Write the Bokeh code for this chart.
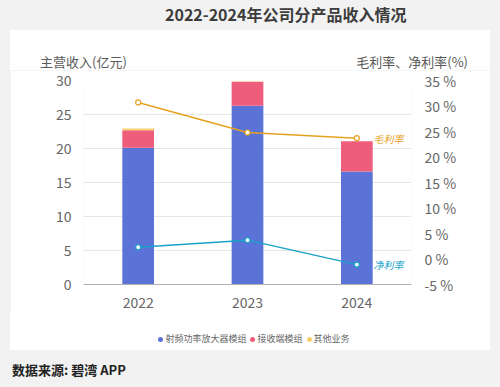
from bokeh.plotting import figure
from bokeh.models import (Range1d, LinearAxis, FixedTicker, PrintfTickFormatter, Label,
                          Div, Spacer, ColumnDataSource)
from bokeh.layouts import column, row
from bokeh.embed import file_html
from bokeh.resources import INLINE

years = ["2022", "2023", "2024"]
rf_pa = [20.1, 26.3, 16.6]
receiver = [2.6, 3.5, 4.45]
other = [0.25, 0.05, 0.0]
gross_margin = [30.7, 24.8, 23.7]
net_margin = [2.3, 3.7, -1.1]
left_ticks = [0, 5, 10, 15, 20, 25, 30]
right_ticks = [-5, 0, 5, 10, 15, 20, 25, 30, 35]
series_names = ["射频功率放大器模组", "接收端模组", "其他业务"]
bar_colors = ["#5b73d7", "#ef5d7c", "#f7d16a"]
c_gross = "#e6a21f"
c_net = "#1aa3c8"
FONT = "Noto Sans CJK SC"
BG = "#f2f2f2"

src = ColumnDataSource(dict(year=years, rf=rf_pa, rx=receiver, ot=other))

p = figure(x_range=years, y_range=Range1d(0, 30), width=480, height=244,
           output_backend="svg", toolbar_location=None, margin=0,
           min_border_left=73, min_border_right=79, min_border_top=10, min_border_bottom=30)
p.extra_y_ranges = {"pct": Range1d(-5, 35)}
p.outline_line_color = None
p.background_fill_color = "white"
p.border_fill_color = "white"

p.vbar_stack(["rf", "rx", "ot"], x="year", width=0.29, color=bar_colors,
             line_color=None, source=src)

p.line(years, gross_margin, y_range_name="pct", color=c_gross, line_width=1.5)
p.scatter(years, gross_margin, y_range_name="pct", size=5, fill_color="white",
          line_color=c_gross, line_width=1.2)
p.line(years, net_margin, y_range_name="pct", color=c_net, line_width=1.5)
p.scatter(years, net_margin, y_range_name="pct", size=5, fill_color="white",
          line_color=c_net, line_width=1.2)

# axes
p.yaxis.ticker = FixedTicker(ticks=left_ticks)
ya = p.yaxis[0]
ya.axis_line_color = None
ya.major_tick_line_color = None
ya.minor_tick_line_color = None
ya.major_label_text_font_size = "14px"
ya.major_label_text_color = "#666666"
ya.major_label_text_font = FONT
ya.major_label_standoff = 6

ra = LinearAxis(y_range_name="pct", ticker=FixedTicker(ticks=right_ticks),
                formatter=PrintfTickFormatter(format="%d %%"))
ra.axis_line_color = None
ra.major_tick_line_color = None
ra.minor_tick_line_color = None
ra.major_label_text_font_size = "14px"
ra.major_label_text_color = "#666666"
ra.major_label_text_font = FONT
ra.major_label_standoff = 7
p.add_layout(ra, "right")

xa = p.xaxis[0]
xa.axis_line_color = "#b0b0b0"
xa.major_tick_line_color = None
xa.minor_tick_line_color = None
xa.major_label_text_font_size = "14px"
xa.major_label_text_color = "#666666"
xa.major_label_text_font = FONT
xa.major_label_standoff = 6

p.ygrid.grid_line_color = "#e6e6e6"
p.xgrid.grid_line_color = None

# line labels
p.add_layout(Label(x=2.652, y=gross_margin[2], y_range_name="pct", text="毛利率",
                   text_font=FONT, text_font_size="10px", text_font_style="italic",
                   text_color=c_gross, text_baseline="middle"))
p.add_layout(Label(x=2.652, y=net_margin[2], y_range_name="pct", text="净利率",
                   text_font=FONT, text_font_size="10px", text_font_style="italic",
                   text_color=c_net, text_baseline="middle"))

F = "font-family:'Noto Sans CJK SC';"

title = Div(margin=0, width=500, height=30, text=(
    f'<div style="width:500px;height:30px;background:{BG};{F}font-weight:bold;font-size:16px;'
    f'color:#3c3c3c;line-height:28px;padding-left:165px;box-sizing:border-box;white-space:nowrap;">'
    '2022-2024年公司分产品收入情况</div>'))

axis_titles = Div(margin=0, width=500, height=40, text=(
    f'<div style="width:500px;height:40px;background:{BG};position:relative;{F}">'
    '<div style="position:absolute;left:10px;top:0;width:480px;height:40px;background:white;">'
    '<span style="position:absolute;left:30px;top:23px;font-size:13px;line-height:18px;color:#595959;white-space:nowrap;">主营收入(亿元)</span>'
    '<span style="position:absolute;right:22px;top:23px;font-size:13px;line-height:18px;color:#595959;white-space:nowrap;">毛利率、净利率(%)</span>'
    '</div></div>'))

dots = "".join(
    f'<span style="display:inline-block;width:5px;height:5px;border-radius:50%;background:{c};'
    f'margin:0 2px 1px 0;vertical-align:middle;"></span>'
    f'<span style="margin-right:4px;">{n}</span>'
    for n, c in zip(series_names, bar_colors))
legend = Div(margin=0, width=500, height=36, text=(
    f'<div style="width:500px;height:36px;background:{BG};position:relative;{F}">'
    '<div style="position:absolute;left:10px;top:0;width:480px;height:36px;background:white;'
    'text-align:center;box-sizing:border-box;padding-left:12px;padding-top:19px;'
    f'font-size:9px;line-height:12px;color:#666666;white-space:nowrap;">{dots}</div></div>'))

source = Div(margin=0, width=500, height=37, text=(
    f'<div style="width:500px;height:37px;background:{BG};{F}font-weight:bold;font-size:13px;'
    'color:#222222;padding-left:12px;padding-top:12px;line-height:16px;box-sizing:border-box;'
    'white-space:nowrap;">数据来源: 碧湾 APP</div>'))

plot_row = row(Spacer(width=10, height=244, margin=0), p, Spacer(width=10, height=244, margin=0),
               spacing=0, margin=0, styles={"background-color": BG})

layout = column(title, axis_titles, plot_row, legend, source, spacing=0, margin=0,
                styles={"background-color": BG})

open("out.html", "w").write(file_html(layout, INLINE))
